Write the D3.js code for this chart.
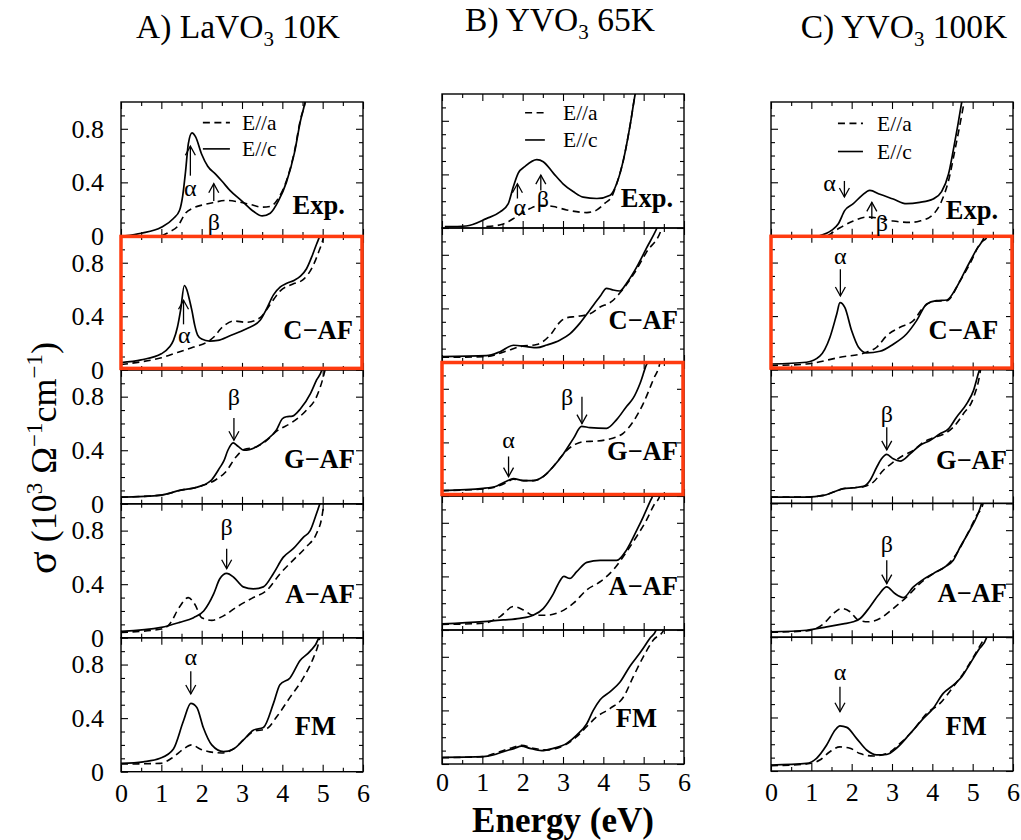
<!DOCTYPE html>
<html><head><meta charset="utf-8">
<script src="https://cdn.jsdelivr.net/npm/d3@7"></script>
<style>
body{margin:0;background:#fff;}
svg{display:block;font-family:"Liberation Serif","Times New Roman",serif;}
svg text{font-family:"Liberation Serif","Times New Roman",serif;}
</style>
</head><body>
<svg id="c" width="1021" height="840"></svg>
<script>
// ---------------- DATA: [energy (eV), sigma (10^3 Ohm^-1 cm^-1)] ----------------
const columnTitles = [["A) LaVO","3"," 10K"],["B) YVO","3"," 65K"],["C) YVO","3"," 100K"]];
const rowLabels = ["Exp.","C\u2212AF","G\u2212AF","A\u2212AF","FM"];
const xTicks = [0,1,2,3,4,5,6];
const yTicks = [0,0.4,0.8];
const legendNames = ["E//a","E//c"];

// Column A : LaVO3 10K
const A_Exp_c = [[0.1,0.0],[0.5,0.02],[1.0,0.065],[1.3,0.13],[1.45,0.19],[1.53,0.30],[1.6,0.48],[1.67,0.69],[1.76,0.77],[1.85,0.74],[2.0,0.61],[2.15,0.52],[2.35,0.46],[2.5,0.41],[2.7,0.34],[3.0,0.26],[3.3,0.18],[3.5,0.15],[3.7,0.17],[3.9,0.26],[4.1,0.40],[4.3,0.62],[4.45,0.86],[4.56,1.0],[4.6,1.08]];
const A_Exp_a = [[1.0,0.0],[1.2,0.03],[1.4,0.07],[1.6,0.17],[1.8,0.21],[2.0,0.23],[2.3,0.25],[2.6,0.265],[2.9,0.255],[3.2,0.235],[3.5,0.215],[3.7,0.22],[3.9,0.28],[4.1,0.41],[4.3,0.63],[4.45,0.87],[4.57,1.0],[4.62,1.08]];
const A_CAF_c = [[0,0.055],[0.5,0.075],[1.0,0.12],[1.2,0.17],[1.3,0.22],[1.4,0.32],[1.48,0.45],[1.57,0.63],[1.63,0.60],[1.7,0.52],[1.76,0.44],[1.83,0.33],[1.9,0.26],[2.0,0.23],[2.2,0.215],[2.4,0.22],[2.7,0.255],[3.1,0.305],[3.45,0.37],[3.6,0.45],[3.78,0.56],[3.95,0.62],[4.1,0.645],[4.3,0.67],[4.45,0.70],[4.6,0.755],[4.75,0.86],[4.85,0.94],[4.93,1.0],[5.0,1.06]];
const A_CAF_a = [[0,0.04],[0.5,0.06],[1.0,0.09],[1.4,0.13],[1.8,0.17],[2.2,0.22],[2.35,0.26],[2.45,0.30],[2.6,0.34],[2.8,0.365],[3.1,0.355],[3.45,0.39],[3.7,0.49],[3.95,0.59],[4.25,0.64],[4.5,0.67],[4.75,0.77],[4.9,0.88],[5.02,0.99],[5.06,1.05]];
const A_GAF_c = [[0,0.05],[1.0,0.065],[1.45,0.10],[1.95,0.13],[2.25,0.18],[2.45,0.27],[2.55,0.32],[2.65,0.40],[2.78,0.455],[2.9,0.43],[3.05,0.40],[3.35,0.425],[3.6,0.475],[3.85,0.55],[4.0,0.635],[4.1,0.65],[4.25,0.655],[4.45,0.71],[4.7,0.825],[4.85,0.925],[4.98,1.0],[5.02,1.05]];
const A_GAF_a = [[0,0.05],[1.0,0.065],[1.45,0.10],[1.95,0.13],[2.35,0.18],[2.6,0.24],[2.85,0.35],[3.05,0.405],[3.35,0.425],[3.6,0.47],[3.85,0.54],[4.25,0.61],[4.6,0.70],[4.85,0.80],[5.0,0.93],[5.06,1.0],[5.1,1.05]];
const A_AAF_c = [[0,0.048],[1.0,0.078],[1.45,0.115],[1.8,0.15],[2.05,0.20],[2.3,0.33],[2.45,0.44],[2.62,0.48],[2.8,0.45],[3.03,0.38],[3.28,0.365],[3.53,0.38],[3.78,0.48],[4.02,0.60],[4.27,0.665],[4.52,0.75],[4.69,0.80],[4.85,0.93],[4.93,1.0],[4.98,1.05]];
const A_AAF_a = [[0,0.04],[1.0,0.065],[1.2,0.10],[1.45,0.23],[1.67,0.30],[1.83,0.25],[2.0,0.15],[2.25,0.13],[2.55,0.165],[2.87,0.23],[3.28,0.30],[3.6,0.35],[3.95,0.48],[4.27,0.58],[4.6,0.68],[4.85,0.78],[4.98,0.90],[5.03,1.0],[5.06,1.05]];
const A_FM_c = [[0,0.062],[0.55,0.074],[0.97,0.10],[1.3,0.17],[1.55,0.38],[1.73,0.51],[1.88,0.48],[2.04,0.33],[2.25,0.20],[2.54,0.15],[2.79,0.17],[3.03,0.235],[3.28,0.31],[3.53,0.33],[3.78,0.51],[3.94,0.65],[4.19,0.70],[4.44,0.83],[4.69,0.90],[4.89,0.99],[4.95,1.05]];
const A_FM_a = [[0,0.057],[0.97,0.062],[1.3,0.11],[1.55,0.17],[1.75,0.20],[1.96,0.17],[2.2,0.148],[2.5,0.14],[2.79,0.17],[3.03,0.235],[3.28,0.30],[3.61,0.32],[3.86,0.41],[4.19,0.555],[4.52,0.70],[4.77,0.85],[4.89,0.95],[4.93,1.0],[4.97,1.05]];

// Column B : YVO3 65K
const B_Exp_c = [[0.07,0.01],[0.6,0.015],[1.1,0.07],[1.44,0.12],[1.64,0.18],[1.77,0.31],[1.89,0.41],[2.06,0.46],[2.35,0.51],[2.51,0.495],[2.76,0.41],[3.0,0.33],[3.26,0.27],[3.5,0.23],[3.84,0.22],[4.17,0.245],[4.33,0.33],[4.5,0.51],[4.66,0.76],[4.79,1.0],[4.83,1.06]];
const B_Exp_a = [[1.1,0.01],[1.52,0.03],[1.85,0.085],[2.18,0.145],[2.43,0.17],[2.76,0.16],[3.09,0.135],[3.59,0.115],[3.84,0.135],[4.04,0.185],[4.21,0.235],[4.33,0.33],[4.5,0.51],[4.66,0.76],[4.79,1.0],[4.83,1.06]];
const B_CAF_c = [[0,0.04],[1.1,0.047],[1.44,0.077],[1.77,0.125],[2.1,0.115],[2.35,0.107],[2.6,0.127],[2.93,0.165],[3.17,0.21],[3.42,0.29],[3.67,0.39],[3.92,0.49],[4.08,0.55],[4.21,0.54],[4.41,0.53],[4.58,0.59],[4.83,0.71],[5.07,0.85],[5.33,1.0],[5.4,1.05]];
const B_CAF_a = [[0,0.035],[1.1,0.04],[1.6,0.082],[1.93,0.115],[2.35,0.13],[2.68,0.20],[2.93,0.30],[3.09,0.33],[3.34,0.34],[3.67,0.36],[3.92,0.41],[4.2,0.45],[4.45,0.53],[4.74,0.65],[5.07,0.82],[5.45,1.0],[5.5,1.05]];
const B_GAF_c = [[0,0.04],[1.02,0.057],[1.36,0.075],[1.6,0.11],[1.77,0.13],[2.02,0.115],[2.26,0.115],[2.51,0.145],[2.76,0.22],[3.0,0.31],[3.26,0.43],[3.46,0.52],[3.67,0.51],[4.08,0.505],[4.33,0.57],[4.58,0.67],[4.74,0.73],[4.91,0.84],[5.07,0.98],[5.1,1.0],[5.14,1.05]];
const B_GAF_a = [[0,0.04],[1.02,0.052],[1.36,0.07],[1.6,0.10],[1.77,0.125],[2.02,0.115],[2.26,0.115],[2.51,0.145],[2.76,0.22],[3.0,0.31],[3.15,0.355],[3.3,0.385],[3.5,0.405],[3.84,0.41],[4.08,0.42],[4.5,0.47],[4.74,0.555],[4.99,0.69],[5.24,0.87],[5.4,0.99],[5.44,1.05]];
const B_AAF_c = [[0,0.045],[1.02,0.062],[1.52,0.075],[1.93,0.087],[2.26,0.11],[2.51,0.16],[2.76,0.27],[2.93,0.37],[3.02,0.40],[3.17,0.385],[3.34,0.435],[3.59,0.505],[3.92,0.52],[4.33,0.52],[4.58,0.60],[4.83,0.745],[4.99,0.845],[5.16,0.96],[5.22,1.0],[5.26,1.05]];
const B_AAF_a = [[0,0.042],[1.02,0.05],[1.44,0.10],[1.77,0.175],[2.02,0.15],[2.26,0.11],[2.6,0.11],[2.93,0.135],[3.26,0.20],[3.59,0.30],[3.92,0.36],[4.25,0.45],[4.58,0.585],[4.83,0.70],[5.07,0.82],[5.25,0.93],[5.4,1.0],[5.45,1.05]];
const B_FM_c = [[0,0.05],[1.02,0.055],[1.27,0.067],[1.52,0.092],[1.8,0.117],[1.97,0.134],[2.18,0.117],[2.47,0.10],[2.76,0.117],[3.09,0.154],[3.34,0.216],[3.59,0.30],[3.75,0.40],[3.92,0.48],[4.17,0.54],[4.41,0.61],[4.66,0.73],[4.91,0.83],[5.16,0.94],[5.31,1.0],[5.36,1.05]];
const B_FM_a = [[0,0.047],[1.02,0.055],[1.36,0.085],[1.69,0.117],[1.97,0.14],[2.26,0.117],[2.6,0.105],[3.0,0.134],[3.34,0.204],[3.59,0.28],[3.84,0.353],[4.17,0.415],[4.5,0.50],[4.74,0.65],[4.99,0.80],[5.24,0.925],[5.5,1.0],[5.55,1.05]];

// Column C : YVO3 100K
const C_Exp_c = [[1.2,0.0],[1.5,0.04],[1.67,0.09],[1.83,0.19],[2.04,0.24],[2.25,0.30],[2.45,0.34],[2.7,0.31],[3.03,0.275],[3.36,0.24],[3.69,0.25],[4.02,0.275],[4.23,0.33],[4.4,0.46],[4.52,0.64],[4.64,0.84],[4.73,1.0],[4.77,1.06]];
const C_Exp_a = [[1.4,0.0],[1.71,0.06],[2.04,0.11],[2.37,0.14],[2.7,0.13],[3.03,0.11],[3.45,0.10],[3.69,0.11],[4.02,0.16],[4.23,0.26],[4.4,0.41],[4.56,0.64],[4.69,0.84],[4.79,1.0],[4.83,1.06]];
const C_CAF_c = [[0,0.042],[0.88,0.055],[1.21,0.10],[1.46,0.24],[1.63,0.415],[1.71,0.50],[1.83,0.465],[2.0,0.29],[2.17,0.167],[2.37,0.125],[2.7,0.137],[3.03,0.19],[3.36,0.266],[3.61,0.366],[3.86,0.49],[4.1,0.515],[4.36,0.52],[4.6,0.615],[4.85,0.76],[5.1,0.90],[5.3,1.0],[5.35,1.05]];
const C_CAF_a = [[0,0.03],[0.88,0.042],[1.71,0.092],[2.37,0.13],[2.62,0.167],[2.87,0.254],[3.2,0.316],[3.53,0.366],[3.78,0.465],[4.02,0.51],[4.36,0.515],[4.69,0.664],[4.93,0.79],[5.18,0.94],[5.38,1.0],[5.42,1.05]];
const C_GAF_c = [[0,0.047],[0.88,0.047],[1.3,0.06],[1.55,0.085],[1.79,0.11],[2.04,0.117],[2.29,0.127],[2.45,0.17],[2.62,0.27],[2.74,0.333],[2.87,0.366],[3.03,0.333],[3.2,0.316],[3.45,0.37],[3.69,0.433],[3.94,0.47],[4.19,0.52],[4.4,0.557],[4.6,0.644],[4.85,0.744],[5.02,0.843],[5.14,0.97],[5.17,1.0],[5.2,1.05]];
const C_GAF_a = [[0,0.047],[0.88,0.047],[1.3,0.06],[1.55,0.085],[1.79,0.11],[2.04,0.117],[2.29,0.125],[2.54,0.16],[2.78,0.246],[3.03,0.308],[3.28,0.358],[3.53,0.396],[3.78,0.458],[4.02,0.49],[4.26,0.515],[4.52,0.57],[4.77,0.67],[5.02,0.79],[5.18,0.97],[5.22,1.05]];
const C_AAF_c = [[0,0.04],[0.88,0.052],[1.38,0.077],[1.79,0.10],[2.04,0.115],[2.21,0.14],[2.45,0.226],[2.66,0.313],[2.87,0.376],[3.07,0.326],[3.28,0.296],[3.53,0.376],[3.74,0.425],[4.02,0.475],[4.31,0.525],[4.52,0.575],[4.69,0.674],[4.93,0.80],[5.1,0.90],[5.22,1.0],[5.26,1.05]];
const C_AAF_a = [[0,0.037],[0.88,0.047],[1.3,0.10],[1.55,0.177],[1.75,0.214],[1.96,0.19],[2.17,0.127],[2.41,0.115],[2.7,0.14],[3.03,0.214],[3.36,0.30],[3.69,0.40],[4.02,0.475],[4.36,0.537],[4.6,0.624],[4.85,0.76],[5.1,0.91],[5.26,1.0],[5.3,1.05]];
const C_FM_c = [[0,0.045],[0.88,0.057],[1.13,0.095],[1.38,0.194],[1.59,0.306],[1.71,0.338],[1.88,0.326],[2.12,0.244],[2.37,0.157],[2.62,0.12],[2.87,0.124],[3.11,0.17],[3.45,0.28],[3.74,0.38],[4.02,0.468],[4.27,0.58],[4.52,0.642],[4.73,0.704],[4.93,0.80],[5.14,0.903],[5.35,1.0],[5.4,1.05]];
const C_FM_a = [[0,0.04],[0.88,0.052],[1.21,0.082],[1.46,0.144],[1.71,0.18],[1.96,0.17],[2.21,0.13],[2.54,0.112],[2.87,0.13],[3.2,0.206],[3.53,0.306],[3.86,0.43],[4.19,0.505],[4.52,0.63],[4.77,0.73],[5.02,0.853],[5.26,0.978],[5.3,1.0],[5.34,1.05]];

// series per column, per row: [E//a (dashed), E//c (solid)]
const seriesA = [[A_Exp_a,A_Exp_c],[A_CAF_a,A_CAF_c],[A_GAF_a,A_GAF_c],[A_AAF_a,A_AAF_c],[A_FM_a,A_FM_c]];
const seriesB = [[B_Exp_a,B_Exp_c],[B_CAF_a,B_CAF_c],[B_GAF_a,B_GAF_c],[B_AAF_a,B_AAF_c],[B_FM_a,B_FM_c]];
const seriesC = [[C_Exp_a,C_Exp_c],[C_CAF_a,C_CAF_c],[C_GAF_a,C_GAF_c],[C_AAF_a,C_AAF_c],[C_FM_a,C_FM_c]];

// peak annotations: column, row, symbol, E, tail sigma, head sigma, label E, label sigma
const peakMarks = [
  [0,0,"\u03b1",1.72,0.45,0.67,1.72,0.36],
  [0,0,"\u03b2",2.3,0.26,0.39,2.3,0.11],
  [0,1,"\u03b1",1.55,0.34,0.52,1.57,0.26],
  [0,2,"\u03b2",2.8,0.64,0.475,2.8,0.80],
  [0,3,"\u03b2",2.62,0.665,0.515,2.62,0.83],
  [0,4,"\u03b1",1.73,0.75,0.58,1.73,0.86],
  [1,0,"\u03b1",1.87,0.22,0.33,1.93,0.16],
  [1,0,"\u03b2",2.45,0.28,0.395,2.5,0.22],
  [1,2,"\u03b1",1.65,0.295,0.145,1.65,0.42],
  [1,2,"\u03b2",3.47,0.74,0.54,3.1,0.74],
  [2,0,"\u03b1",1.82,0.41,0.29,1.45,0.40],
  [2,0,"\u03b2",2.5,0.125,0.25,2.75,0.10],
  [2,1,"\u03b1",1.72,0.75,0.55,1.72,0.85],
  [2,2,"\u03b2",2.87,0.57,0.40,2.87,0.67],
  [2,3,"\u03b2",2.87,0.575,0.40,2.87,0.70],
  [2,4,"\u03b1",1.71,0.63,0.443,1.71,0.74]
];
// panel label anchor per column/row: [right edge E, baseline sigma]
const labelAnchorA = [[5.55,0.165],[5.75,0.23],[5.8,0.265],[5.8,0.26],[5.33,0.275]];
const labelAnchorB = [[5.73,0.157],[5.85,0.25],[5.85,0.27],[5.85,0.26],[5.33,0.276]];
const labelAnchorC = [[5.63,0.127],[5.63,0.23],[5.85,0.26],[5.85,0.26],[5.35,0.27]];
// legend anchor per column: [line start E, line end E, text E, sigma E//a, sigma E//c]
const legendAnchor = [[2.03,2.70,3.0,0.846,0.65],[2.06,2.55,3.0,0.86,0.657],[1.66,2.28,2.63,0.84,0.63]];
// highlighted panels: [column,row]
const highlighted = [[0,1],[1,2],[2,1]];

// ---------------- LAYOUT ----------------
const FONT = "'Liberation Serif','Times New Roman',serif";
const svg = d3.select("#c");
const cols = [
  {x0:121,x1:363,y0:102,y1:771.7,tx:238,ty:38},
  {x0:442,x1:684,y0:94,y1:764,tx:560,ty:31},
  {x0:771,x1:1013,y0:102,y1:771,tx:904,ty:38}
];
const allSeries = [seriesA,seriesB,seriesC];
const labelAnchors = [labelAnchorA,labelAnchorB,labelAnchorC];
const defs = svg.append("defs");
const panels = [];

cols.forEach((c,ci)=>{
  const ph = (c.y1-c.y0)/5;
  const x = d3.scaleLinear().domain([0,6]).range([c.x0,c.x1]);
  for(let r=0;r<5;r++){
    const top = c.y0+r*ph, bot = top+ph;
    const y = d3.scaleLinear().domain([0,1]).range([bot,top]);
    panels.push({ci,r,x,y,top,bot});
    const cid = `clip${ci}_${r}`;
    defs.append("clipPath").attr("id",cid).append("rect")
      .attr("x",c.x0).attr("y",top).attr("width",c.x1-c.x0).attr("height",ph);
    const g = svg.append("g");
    const line = d3.line().x(d=>x(d[0])).y(d=>y(d[1])).curve(d3.curveMonotoneX);
    const [sa,sc] = allSeries[ci][r];
    g.append("path").attr("d",line(sa)).attr("clip-path",`url(#${cid})`)
      .attr("fill","none").attr("stroke","#000").attr("stroke-width",1.6).attr("stroke-dasharray","7,4.5");
    g.append("path").attr("d",line(sc)).attr("clip-path",`url(#${cid})`)
      .attr("fill","none").attr("stroke","#000").attr("stroke-width",1.7);

    // ticks (inward) on all sides
    const mk = (axis,tr,vals,size,fmt,pad)=>{
      const a = axis.tickValues(vals).tickSize(size).tickPadding(pad||3).tickFormat(fmt||(()=>""));
      const ag = svg.append("g").attr("transform",tr).call(a);
      ag.attr("font-family",FONT);
      ag.select(".domain").remove();
      ag.selectAll("line").attr("stroke","#000").attr("stroke-width",1.1);
      return ag;
    };
    const minorX = d3.range(0.5,6,1);
    const minorY = [0.1,0.2,0.3,0.5,0.6,0.7,0.9];
    mk(d3.axisBottom(x),`translate(0,${bot})`,xTicks,-7);
    mk(d3.axisBottom(x),`translate(0,${bot})`,minorX,-4);
    mk(d3.axisTop(x),`translate(0,${top})`,xTicks,-7);
    mk(d3.axisTop(x),`translate(0,${top})`,minorX,-4);
    mk(d3.axisLeft(y),`translate(${c.x0},0)`,[0,0.4,0.8],-7);
    mk(d3.axisLeft(y),`translate(${c.x0},0)`,minorY,-4);
    mk(d3.axisRight(y),`translate(${c.x1},0)`,[0,0.4,0.8],-7);
    mk(d3.axisRight(y),`translate(${c.x1},0)`,minorY,-4);
    if(ci===0){
      const ag = mk(d3.axisLeft(y),`translate(${c.x0},0)`,yTicks,0,d=>d===0?"0":d3.format(".1f")(d),17);
      ag.selectAll("text").attr("font-size",26).attr("fill","#000");
    }
    if(r===4){
      const ag = mk(d3.axisBottom(x),`translate(0,${bot})`,xTicks,0,d3.format("d"),ci===1?9:12);
      ag.selectAll("text").attr("font-size",26).attr("fill","#000");
    }
    // frame
    svg.append("rect").attr("x",c.x0).attr("y",top).attr("width",c.x1-c.x0).attr("height",ph)
      .attr("fill","none").attr("stroke","#000").attr("stroke-width",1.4);

    // panel label
    const la = labelAnchors[ci][r];
    svg.append("text").attr("x",x(la[0])).attr("y",y(la[1])).attr("text-anchor","end")
      .attr("font-size",26.5).attr("font-weight","bold").text(rowLabels[r]);

    // legend in top panel
    if(r===0){
      const L = legendAnchor[ci];
      [[L[3],"7,4.5",legendNames[0]],[L[4],null,legendNames[1]]].forEach(([v,dash,name])=>{
        const ln = svg.append("line").attr("x1",x(L[0])).attr("x2",x(L[1])).attr("y1",y(v)).attr("y2",y(v))
          .attr("stroke","#000").attr("stroke-width",1.6);
        if(dash) ln.attr("stroke-dasharray",dash);
        svg.append("text").attr("x",x(L[2])).attr("y",y(v)).attr("dy","0.35em")
          .attr("font-size",21.5).text(name);
      });
    }
  }
  // column title
  const t = svg.append("text").attr("x",c.tx).attr("y",c.ty).attr("text-anchor","middle").attr("font-size",33.5);
  t.append("tspan").text(columnTitles[ci][0]);
  t.append("tspan").attr("font-size",21).attr("dy",8).text(columnTitles[ci][1]);
  t.append("tspan").attr("dy",-8).text(columnTitles[ci][2]);
});

// highlighted panels (red boxes)
highlighted.forEach(([ci,r])=>{
  const p = panels.find(q=>q.ci===ci&&q.r===r);
  const c = cols[ci];
  svg.append("rect").attr("x",c.x0).attr("y",p.top+0.5).attr("width",c.x1-c.x0-1).attr("height",p.bot-p.top-2)
    .attr("fill","none").attr("stroke","#ff3b0f").attr("stroke-width",3.5);
});

// peak arrows
peakMarks.forEach(([ci,r,sym,E,vt,vh,lE,lv])=>{
  const p = panels.find(q=>q.ci===ci&&q.r===r);
  const xx = p.x(E), y1 = p.y(vt), y2 = p.y(vh);
  const dir = Math.sign(y2-y1);
  const g = svg.append("g").attr("stroke","#000").attr("stroke-width",1.3).attr("fill","none");
  g.append("line").attr("x1",xx).attr("x2",xx).attr("y1",y1).attr("y2",y2);
  g.append("path").attr("d",`M${xx-5},${y2-dir*9}L${xx},${y2}L${xx+5},${y2-dir*9}`);
  svg.append("text").attr("x",p.x(lE)).attr("y",p.y(lv)).attr("dy","0.35em")
    .attr("text-anchor","middle").attr("font-size",24).text(sym);
});

// axis titles
svg.append("text").attr("x",563).attr("y",832).attr("text-anchor","middle")
  .attr("font-size",35).attr("font-weight","bold").text("Energy (eV)");
const yt = svg.append("text").attr("transform","translate(56,458) rotate(-90)").attr("text-anchor","middle").attr("font-size",36);
yt.append("tspan").attr("font-size",42).text("\u03c3");
yt.append("tspan").text(" (10");
yt.append("tspan").attr("font-size",23).attr("dy",-14).text("3");
yt.append("tspan").attr("dy",14).text(" \u03a9");
yt.append("tspan").attr("font-size",23).attr("dy",-14).text("\u22121");
yt.append("tspan").attr("dy",14).text("cm");
yt.append("tspan").attr("font-size",23).attr("dy",-14).text("\u22121");
yt.append("tspan").attr("dy",14).text(")");
</script>
</body></html>
